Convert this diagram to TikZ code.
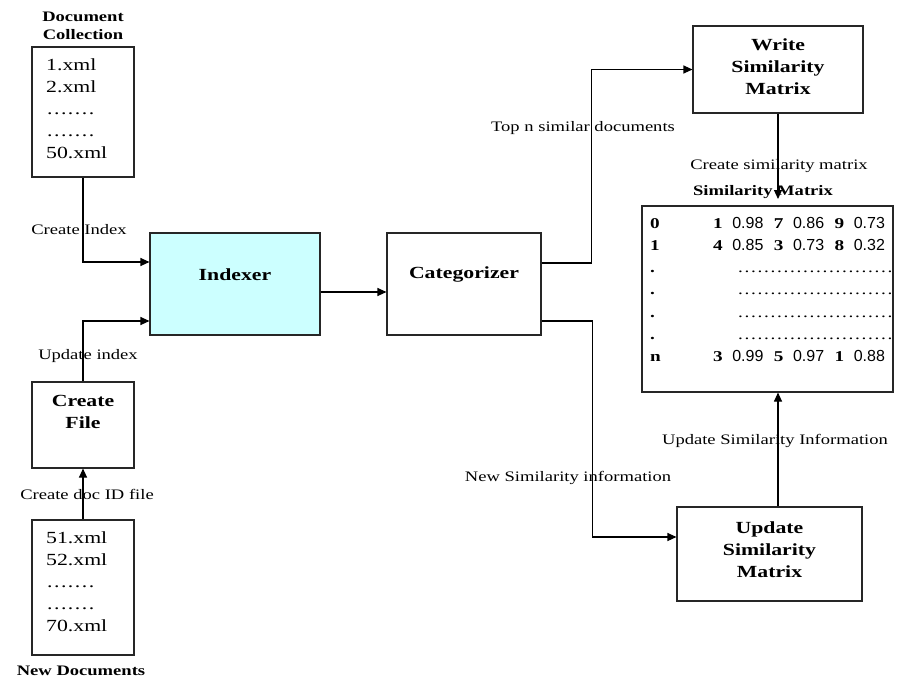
\documentclass[tikz,border=0pt]{standalone}
\usepackage{fontspec}
\setmainfont{Liberation Serif}[FakeStretch=1.28]
\setsansfont{Liberation Sans}
\usetikzlibrary{calc,positioning,arrows.meta}
\definecolor{idxcyan}{HTML}{CCFFFF}
\tikzset{
 sm box/.style={draw=black!85,line width=1.1pt,inner sep=0pt},
 sm title/.style={font=\fontsize{17}{22}\selectfont\bfseries,align=center,
                  inner sep=0pt},
 sm head/.style={font=\fontsize{14.5}{18}\selectfont\bfseries,align=center,
                 inner sep=0pt},
 sm list/.style={font=\fontsize{17}{22}\selectfont,inner sep=0pt,anchor=base west},
 sm cell/.style={font=\fontsize{15}{18}\selectfont,inner sep=0pt,anchor=base west},
 sm label/.style={font=\fontsize{14.5}{17}\selectfont,inner sep=0pt,anchor=base},
 sm flow/.style={line width=1.1pt,-{Triangle[length=9pt,width=8pt]}}
}
\newcommand{\mx}[2]{\textbf{#1}\hspace{9.5pt}{\sffamily\fontsize{16}{18}\selectfont #2}\hspace{10.5pt}}
\newcommand{\dotrow}[1]{\hbox to #1{\xleaders\hbox to 6.5pt{\hss.\hss}\hfill}}

\begin{document}
\begin{tikzpicture}[x=1pt,y=-1pt]
 \useasboundingbox (0,0) rectangle (899,681);
 % boxes
 \node[sm box,minimum width=102pt,minimum height=130pt] (coll) at (83,112) {};
 \node[sm box,minimum width=102pt,minimum height=86pt] (cfile) at (83,425) {};
 \node[sm box,minimum width=102pt,minimum height=135pt] (newdocs) at (83,587.5) {};
 \node[sm box,fill=idxcyan,minimum width=170pt,minimum height=102pt] (indexer) at (235,284) {};
 \node[sm box,minimum width=154pt,minimum height=102pt] (categ) at (464,284) {};
 \node[sm box,minimum width=170pt,minimum height=87pt] (write) at (778,69.5) {};
 \node[sm box,minimum width=251pt,minimum height=186pt] (matrix) at (767.5,299) {};
 \node[sm box,minimum width=185pt,minimum height=94pt] (update) at (769.5,554) {};

 % titles
 \node[sm head] (colltitle) at (83,26) {Document\\Collection};
 \node[sm head] (newtitle) at (81,671) {New Documents};
 \node[sm head] (mtxtitle) at (763,192) {Similarity Matrix};
 \node[sm title] (cfiletxt) at ($(cfile.center)+(0,-13)$) {Create\\File};
 \node[sm title] (indexertxt) at ($(indexer.center)+(0,-9)$) {Indexer};
 \node[sm title] (categtxt) at ($(categ.center)+(0,-10)$) {Categorizer};
 \node[sm title] (writetxt) at ($(write.center)+(0,-3)$) {Write\\Similarity\\Matrix};
 \node[sm title] (updatetxt) at ($(update.center)+(0,-4)$) {Update\\Similarity\\Matrix};

 % file lists
 \foreach \t [count=\k from 0] in {1.xml,2.xml,\dotrow{49pt},\dotrow{49pt},50.xml}
   \node[sm list] (cl\k) at (46,70+22*\k) {\t};
 \foreach \t [count=\k from 0] in {51.xml,52.xml,\dotrow{49pt},\dotrow{49pt},70.xml}
   \node[sm list] (nl\k) at (46,543+22*\k) {\t};

 % similarity rows
 \foreach \i/\row [count=\r from 0] in {
   0/{\mx{1}{0.98}\mx{7}{0.86}\mx{9}{0.73}},
   1/{\mx{4}{0.85}\mx{3}{0.73}\mx{8}{0.32}},
   ./{\hspace{24pt}\dotrow{156pt}},
   ./{\hspace{24pt}\dotrow{156pt}},
   ./{\hspace{24pt}\dotrow{156pt}},
   ./{\hspace{24pt}\dotrow{156pt}},
   n/{\mx{3}{0.99}\mx{5}{0.97}\mx{1}{0.88}}}{
   \node[sm cell] (mk\r) at (650,228+22.3*\r) {\textbf{\i}};
   \node[sm cell] (mv\r) at (713,228+22.3*\r) {\row};
 }

 % connectors
 \coordinate (mtip) at (778,199);
 \draw[sm flow] (coll.south) |- ([yshift=22pt]indexer.west);
 \draw[sm flow] (cfile.north) |- ([yshift=-37pt]indexer.west);
 \draw[sm flow] (newdocs.north) -- (cfile.south);
 \draw[sm flow] ([yshift=-8pt]indexer.east) -- ([yshift=-8pt]categ.west);
 \draw[sm flow] ([yshift=21pt]categ.east) -- ++(50,0) |- (write.west);
 \draw[sm flow] ([yshift=-37pt]categ.east) -- ++(51,0) |- ([yshift=17pt]update.west);
 \draw[sm flow] (write.south) -- (mtip);
 \draw[sm flow] (update.north -| mtip) -- (matrix.south -| mtip);

 % connector labels
 \node[sm label] (lbindex) at (79,234) {Create Index};
 \node[sm label] (lbupidx) at (88,359) {Update index};
 \node[sm label] (lbdocid) at (87,499) {Create doc ID file};
 \node[sm label] (lbtopn) at (583,131) {Top n similar documents};
 \node[sm label] (lbcreate) at (779,169) {Create similarity matrix};
 \node[sm label] (lbnewsim) at (568,481) {New Similarity information};
 \node[sm label] (lbupsim) at (775,444) {Update Similarity Information};
\end{tikzpicture}
\end{document}
